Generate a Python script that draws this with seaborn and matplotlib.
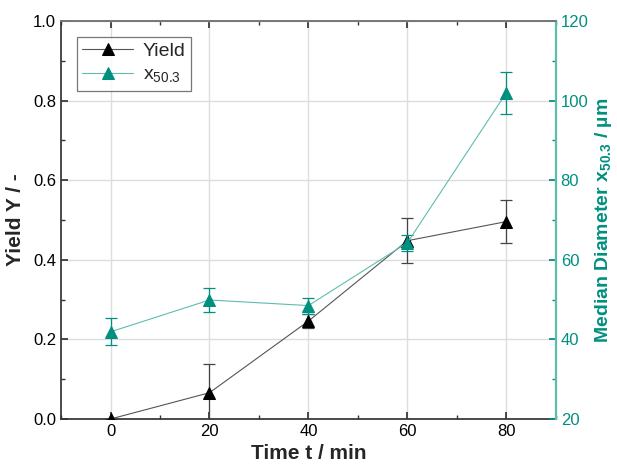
import numpy as np
import pandas as pd
import matplotlib
matplotlib.use("Agg")
import matplotlib.pyplot as plt
import seaborn as sns

# data
time_min = [0, 20, 40, 60, 80]
yield_y = [0.0, 0.066, 0.246, 0.448, 0.496]
yield_err = [0.0, 0.071, 0.018, 0.057, 0.055]
x503 = [41.9, 49.9, 48.5, 64.3, 102.0]
x503_err = [3.4, 3.0, 2.0, 2.0, 5.3]

TEAL = "#00907f"
TEAL_LINE = "#5fbcb0"

sns.set_theme(style="ticks")
plt.rcParams['font.family'] = ['Liberation Sans', 'DejaVu Sans']
plt.rcParams['mathtext.fontset'] = 'custom'
plt.rcParams['mathtext.rm'] = 'Liberation Sans'
plt.rcParams['mathtext.bf'] = 'Liberation Sans:bold'

df = pd.DataFrame({"t": time_min, "Y": yield_y, "Yerr": yield_err,
                   "x": x503, "xerr": x503_err})

fig = plt.figure(figsize=(6.17, 4.71), dpi=100)
ax = fig.add_axes([0.0989, 0.1104, 0.802, 0.845])
ax2 = ax.twinx()

# yield on the left axis
ax.errorbar(df["t"], df["Y"], yerr=df["Yerr"], fmt="none", ecolor="#444444",
            elinewidth=0.9, capsize=4, capthick=0.9, zorder=2)
sns.lineplot(data=df, x="t", y="Y", ax=ax, color="#555555", linewidth=0.8,
             marker="^", markersize=8.5, markerfacecolor="black",
             markeredgecolor="black", label="Yield", legend=False, zorder=3)

# median diameter on the right axis
ax2.errorbar(df["t"], df["x"], yerr=df["xerr"], fmt="none", ecolor=TEAL,
             elinewidth=0.9, capsize=4, capthick=0.9, zorder=2)
sns.lineplot(data=df, x="t", y="x", ax=ax2, color=TEAL_LINE, linewidth=0.8,
             marker="^", markersize=8.5, markerfacecolor=TEAL,
             markeredgecolor=TEAL, label="x$_{50.3}$", legend=False, zorder=3)

ax.set_xlim(-10, 90)
ax.set_ylim(0, 1.0)
ax2.set_ylim(20, 120)
ax.set_xticks([0, 20, 40, 60, 80])
ax.set_xticks([-10, 10, 30, 50, 70, 90], minor=True)
ax.set_yticks(np.arange(0, 1.01, 0.2))
ax.set_yticks(np.arange(0.1, 1.0, 0.2), minor=True)
ax2.set_yticks([20, 40, 60, 80, 100, 120])
ax2.set_yticks([30, 50, 70, 90, 110], minor=True)

ax.grid(True, which="major", color="#dddddd", linewidth=1.0)
ax.set_axisbelow(True)

ax.tick_params(axis="both", which="both", direction="in", labelsize=12,
               colors="#333333", labelcolor="black", top=True)
ax.tick_params(which="major", length=5)
ax.tick_params(which="minor", length=3)
ax2.tick_params(axis="y", which="both", direction="in", labelsize=12,
                colors=TEAL, labelcolor=TEAL)
ax2.tick_params(which="major", length=5)
ax2.tick_params(which="minor", length=3)

for s in ["left", "bottom"]:
    ax.spines[s].set_color("#333333")
ax.spines["top"].set_color("#777777")
ax2.spines["top"].set_color("#777777")
ax2.spines["right"].set_color(TEAL_LINE)
ax2.spines["right"].set_linewidth(1.6)
ax2.spines["left"].set_visible(False)
ax2.spines["bottom"].set_visible(False)

ax.set_xlabel("Time t / min", fontsize=15, fontweight="bold", labelpad=4)
ax.set_ylabel("Yield Y / -", fontsize=15, fontweight="bold", labelpad=6)
ax2.set_ylabel(r"Median Diameter x$_\mathbf{50.3}$ / µm", fontsize=14,
               fontweight="bold", color=TEAL, labelpad=3)

h1, l1 = ax.get_legend_handles_labels()
h2, l2 = ax2.get_legend_handles_labels()
leg = ax2.legend(h1 + h2, l1 + l2, loc="upper left", fontsize=14,
                 frameon=True, fancybox=False, edgecolor="#555555",
                 handlelength=2.6, borderaxespad=0.8, labelspacing=0.3,
                 borderpad=0.3, handletextpad=0.5)
leg.get_frame().set_linewidth(0.9)

fig.savefig("out.png", dpi=100)
